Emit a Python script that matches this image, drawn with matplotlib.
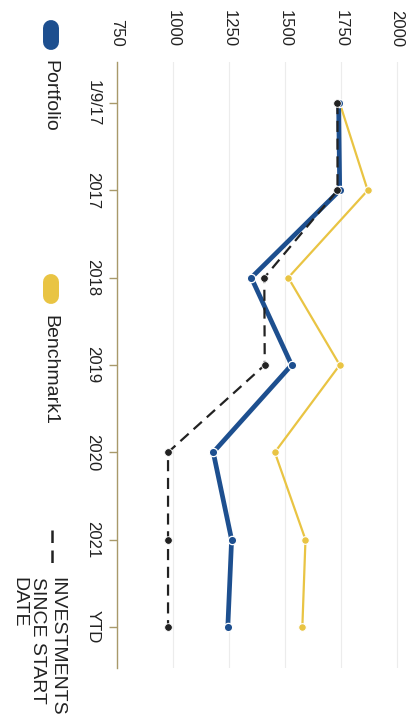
import matplotlib as mpl
mpl.use('Agg')
import matplotlib.pyplot as plt
from matplotlib.lines import Line2D

plt.rcParams['font.family'] = ['Liberation Sans', 'DejaVu Sans']

periods = ['1/9/17', '2017', '2018', '2019', '2020', '2021', 'YTD']
portfolio = [1740, 1745, 1350, 1530, 1180, 1262, 1245]
benchmark1 = [1745, 1870, 1515, 1745, 1455, 1592, 1578]
investments = [1735, 1735, 1408, 1410, 978, 978, 978]
value_ticks = [750, 1000, 1250, 1500, 1750, 2000]

blue = '#1d4f8f'
yellow = '#e9c443'
tan = '#a8996a'

W, H = 412, 714
fig = plt.figure(figsize=(W / 100, H / 100), dpi=100)
# chart is drawn turned a quarter clockwise: values run left->right, periods top->bottom
ax = fig.add_axes([117 / W, 1 - 668 / H, 291 / W, 606 / H])

pos = list(range(len(periods)))
ax.plot(benchmark1, pos, color=yellow, lw=1.6, marker='o', ms=5.5,
        mec='white', mew=0.8, zorder=3)
ax.plot(portfolio, pos, color=blue, lw=3.4, marker='o', ms=6,
        mec='white', mew=0.9, zorder=4)
ax.plot(investments, pos, color='#222222', lw=1.6, ls=(0, (5, 3)),
        marker='o', ms=5.5, mec='white', mew=0.6, zorder=5)

ax.set_xlim(750, 2050)
ax.set_ylim(6.47, -0.47)
ax.set_xticks(value_ticks)
ax.set_xticklabels([str(v) for v in value_ticks], rotation=-90, fontsize=12, color='#222222')
ax.xaxis.tick_top()
ax.tick_params(axis='x', length=0, pad=11)
ax.set_yticks(pos)
ax.set_yticklabels(periods, rotation=-90, fontsize=12, color='#222222', va='center')
ax.tick_params(axis='y', length=6, width=1, color=tan, pad=6)
ax.grid(axis='x', color='#ececec', lw=0.8)
ax.set_axisbelow(True)
for s in ['top', 'right', 'bottom']:
    ax.spines[s].set_visible(False)
ax.spines['left'].set_color(tan)
ax.spines['left'].set_linewidth(1.0)


def fx(px):
    return px / W


def fy(py):
    return 1 - py / H


# legend, drawn by hand so its text can turn with the chart
for col, y0, y1, label, ty in [(blue, 28, 42, 'Portfolio', 60),
                                (yellow, 282, 296, 'Benchmark1', 315)]:
    fig.add_artist(Line2D([fx(51), fx(51)], [fy(y0), fy(y1)], color=col, lw=11.5,
                          solid_capstyle='round', transform=fig.transFigure))
    fig.text(fx(45), fy(ty), label, rotation=-90, rotation_mode='anchor',
             ha='left', va='baseline', fontsize=14, color='#222222')

fig.add_artist(Line2D([fx(52), fx(52)], [fy(530), fy(567)], color='#222222', lw=1.8,
                      ls=(0, (5, 3)), transform=fig.transFigure))
fig.text(fx(65), fy(577), 'INVESTMENTS\nSINCE START\nDATE', rotation=-90,
         rotation_mode='anchor', ha='left', va='top', fontsize=14,
         color='#222222', linespacing=1.15)

plt.savefig('out.png', dpi=100)
